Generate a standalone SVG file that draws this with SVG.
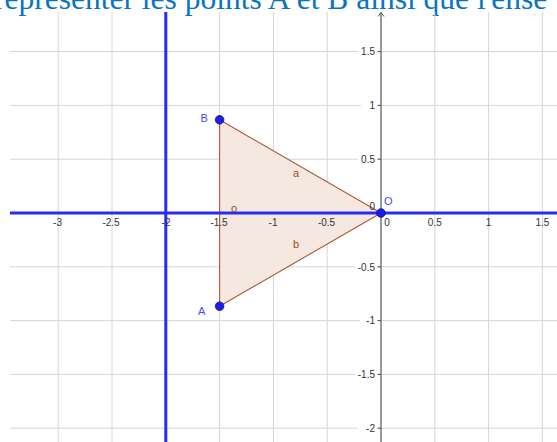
<svg xmlns="http://www.w3.org/2000/svg" width="557" height="442" viewBox="0 0 557 442">
<defs>
<style>
.grid{stroke:#d6d6d6;stroke-width:1;fill:none}
.lbl{font-family:"Liberation Sans",Arial,sans-serif;font-size:10px;fill:#333}
.xl{text-anchor:middle}
.yl{text-anchor:end}
.bg{fill:#fff}
.blue{stroke:#2a2af5;stroke-width:3}
.edge{stroke:#a85a35;stroke-width:1.1;fill:none}
.elbl{font-family:"Liberation Sans",Arial,sans-serif;font-size:11px;fill:#a04a20;text-anchor:middle}
.pt{fill:#1c1cf0;stroke:#10106a;stroke-width:0.8}
.plbl{font-family:"Liberation Sans",Arial,sans-serif;font-size:11px;fill:#4a4af5}
</style>
</defs>
<rect width="557" height="442" fill="#fff"/>
<text x="-6" y="9" font-family="'Liberation Serif','Times New Roman',serif" font-size="31.5" fill="#0a74c4">représenter les points A et B ainsi que l'ense</text>
<g id="grid">
<path class="grid" d="M58.2 12V442M112 12V442M219.6 12V442M273.4 12V442M327.2 12V442M434.8 12V442M488.6 12V442M542.4 12V442M10 51.6H557M10 105.4H557M10 159.2H557M10 266.8H557M10 320.6H557M10 374.4H557M10 428.2H557"/>
</g>
<g id="triangle">
<polygon points="219.6,119.8 381,213 219.6,306.2" fill="#f4e8e1"/>
</g>
<g id="connectors">
<line class="edge" x1="219.6" y1="119.8" x2="381" y2="213"/>
<line class="edge" x1="381" y1="213" x2="219.6" y2="306.2"/>
<line class="edge" x1="219.6" y1="306.2" x2="219.6" y2="119.8"/>
</g>
<g id="y-axis">
<line x1="381" y1="12.5" x2="381" y2="442" stroke="#555" stroke-width="1.2"/>
<path d="M378 16.5L381 12.5L384 16.5" stroke="#555" stroke-width="1" fill="none"/>
<path d="M377.5 51.6H381M377.5 105.4H381M377.5 159.2H381M377.5 266.8H381M377.5 320.6H381M377.5 374.4H381M377.5 428.2H381" stroke="#555" stroke-width="1"/>
</g>
<g id="y-labels">
<rect class="bg" x="358" y="46" width="19" height="11"/>
<rect class="bg" x="361" y="100" width="16" height="11"/>
<rect class="bg" x="358" y="154" width="19" height="11"/>
<rect class="bg" x="355" y="261" width="22" height="11"/>
<rect class="bg" x="360" y="315" width="17" height="11"/>
<rect class="bg" x="355" y="369" width="22" height="11"/>
<rect class="bg" x="357" y="423" width="20" height="11"/>
<text class="lbl yl" x="375" y="55">1.5</text>
<text class="lbl yl" x="375" y="109">1</text>
<text class="lbl yl" x="375" y="163">0.5</text>
<text class="lbl yl" x="375" y="270.5">-0.5</text>
<text class="lbl yl" x="375" y="324">-1</text>
<text class="lbl yl" x="375" y="378">-1.5</text>
<text class="lbl yl" x="375" y="432">-2</text>
<text class="lbl yl" x="375" y="210">0</text>
</g>
<g id="blue-lines">
<line class="blue" x1="10" y1="213" x2="557" y2="213"/>
<line class="blue" x1="165.8" y1="12" x2="165.8" y2="442"/>
</g>
<g id="x-labels">
<text class="lbl xl" x="57.5" y="225.5">-3</text>
<text class="lbl xl" x="111" y="225.5">-2.5</text>
<text class="lbl xl" x="166" y="225.5">-2</text>
<text class="lbl xl" x="219" y="225.5">-1.5</text>
<text class="lbl xl" x="273" y="225.5">-1</text>
<text class="lbl xl" x="326.5" y="225.5">-0.5</text>
<text class="lbl xl" x="387" y="225.5">0</text>
<text class="lbl xl" x="434.8" y="225.5">0.5</text>
<text class="lbl xl" x="488.6" y="225.5">1</text>
<text class="lbl xl" x="542.4" y="225.5">1.5</text>
</g>
<g id="edge-labels">
<text class="elbl" x="296" y="176.5">a</text>
<text class="elbl" x="296" y="248">b</text>
<text class="elbl" x="234" y="212">o</text>
</g>
<g id="point-B">
<circle class="pt" cx="219.6" cy="119.8" r="4.3"/>
<text class="plbl" x="200.5" y="121.5">B</text>
</g>
<g id="point-A">
<circle class="pt" cx="219.6" cy="306.2" r="4.3"/>
<text class="plbl" x="198" y="315">A</text>
</g>
<g id="point-O">
<circle class="pt" cx="381" cy="213" r="4.3"/>
<text class="plbl" x="384" y="205" font-size="12">O</text>
</g>
</svg>
